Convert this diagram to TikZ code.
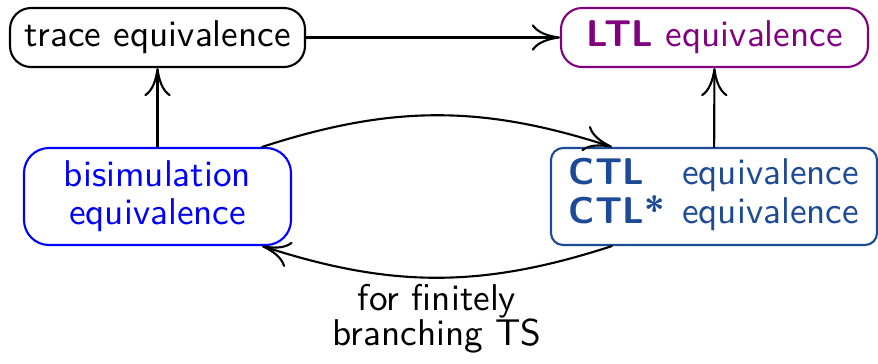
\documentclass[tikz,border=0pt]{standalone}
\usepackage{fontspec}
\usetikzlibrary{arrows.meta}
\definecolor{ltlpurple}{RGB}{128,0,128}
\definecolor{bisimblue}{RGB}{0,0,255}
\definecolor{ctlblue}{RGB}{28,74,150}
\begin{document}
\begin{tikzpicture}[>={Computer Modern Rightarrow[length=8pt,width=7.5pt]},line join=round,line cap=round,line width=0.6pt]
	\tikzset{box/.style={draw,inner sep=0pt,align=center,font=\sffamily\fontsize{10.6}{10.8}\selectfont}}
	\tikzset{small box/.style={box,rounded corners=6pt,minimum height=0.59cm}}
	\tikzset{big box/.style={box,minimum height=0.97cm}}
	%%Khung hình
	\useasboundingbox (0,0) rectangle (8.78,3.63);
	%%Các nút
	\node[small box,minimum width=2.95cm] (trace) at (1.575,3.255) {trace equivalence};
	\node[small box,minimum width=3.07cm,draw=ltlpurple,text=ltlpurple] (ltl) at (7.145,3.255) {\textbf{LTL} equivalence};
	\node[big box,minimum width=2.67cm,rounded corners=0.25cm,draw=bisimblue,text=bisimblue] (bisim) at (1.575,1.665) {bisimulation\\equivalence};
	\node[big box,minimum width=3.26cm,rounded corners=0.12cm,draw=ctlblue,text=ctlblue] (ctl) at (7.14,1.665)
		{\begin{tabular}{@{}l@{\hspace{5pt}}l@{}}\textbf{CTL} & equivalence\\ \textbf{CTL*} & equivalence\end{tabular}};
	%%Các mũi tên
	\draw[->] (trace) -- (ltl);
	\draw[->] (bisim) -- (trace);
	\draw[->] (ctl) -- (ltl);
	\draw[->] ([xshift=-0.3cm]bisim.north east) to[bend left=18] ([xshift=0.62cm]ctl.north west);
	\draw[->] ([xshift=0.62cm]ctl.south west) to[bend left=18]
		node[below=0pt,inner sep=1.5pt,font=\sffamily\fontsize{10.6}{10}\selectfont,align=center] (note) {for finitely\\branching TS}
		([xshift=-0.3cm]bisim.south east);
\end{tikzpicture}
\end{document}
